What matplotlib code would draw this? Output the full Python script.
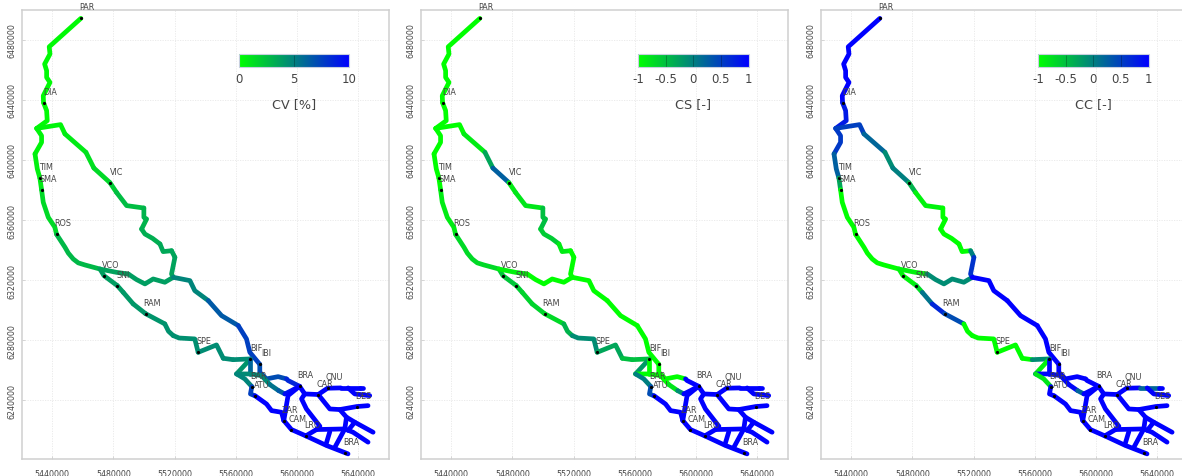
import numpy as np
import matplotlib
matplotlib.use('Agg')
import matplotlib.pyplot as plt
from matplotlib.cm import ScalarMappable
from matplotlib.colors import LinearSegmentedColormap, Normalize

# --- reaches of the network, coordinates in km (scaled to m when drawn) ---
reach_x = [
    [5458.7, 5438.0, 5438.5, 5435.0, 5436.3, 5436.3, 5438.5, 5434.1, 5434.3],
    [5434.3, 5436.3, 5436.7, 5429.8],
    [5429.8, 5433.0, 5433.0, 5428.7],
    [5428.7, 5430.2, 5431.9],
    [5431.9, 5433.0],
    [5433.0, 5434.1, 5437.4, 5441.7, 5442.8],
    [5442.8, 5448.3, 5450.5, 5453.7, 5457.0, 5461.4, 5471.2],
    [5471.2, 5473.8, 5482.5],
    [5482.5, 5486.4],
    [5486.4, 5492.9],
    [5492.9, 5501.0],
    [5501.0, 5513.6],
    [5513.6, 5516.0, 5519.1],
    [5519.1, 5523.0, 5533.2, 5535.4],
    [5535.4, 5547.4, 5551.8],
    [5551.8, 5558.3],
    [5558.3, 5569.6],
    [5471.2, 5482.0, 5489.7],
    [5489.7, 5495.1, 5500.6, 5506.0, 5513.6, 5519.1],
    [5429.8, 5445.4, 5448.3],
    [5448.3, 5462.0],
    [5462.0, 5467.2],
    [5467.2, 5477.7],
    [5477.7, 5482.0],
    [5482.0, 5488.6, 5499.9],
    [5499.9, 5499.9, 5501.7, 5498.4],
    [5498.4, 5500.6, 5505.6, 5510.4],
    [5510.4, 5512.5, 5518.0],
    [5518.0, 5520.2],
    [5520.2, 5518.0, 5519.1],
    [5519.1, 5530.0, 5533.2, 5542.0],
    [5542.0, 5550.7, 5561.6],
    [5561.6, 5567.0, 5569.2, 5575.7],
    [5575.7, 5575.7, 5580.1, 5587.7, 5593.2],
    [5593.2, 5594.2, 5601.7],
    [5569.6, 5560.5],
    [5569.6, 5569.6],
    [5560.5, 5569.6, 5576.8, 5582.3],
    [5582.3, 5588.0],
    [5588.0, 5592.1],
    [5592.1, 5596.4, 5601.7],
    [5560.5, 5565.9, 5570.5],
    [5570.5, 5569.6, 5572.7],
    [5572.7, 5580.1, 5583.4, 5589.9, 5591.4],
    [5591.4, 5596.4, 5605.8],
    [5605.8, 5619.3, 5631.7, 5633.4],
    [5601.7, 5594.2, 5591.4],
    [5601.7, 5605.1, 5613.9],
    [5605.1, 5603.0, 5606.2, 5615.0, 5612.8],
    [5605.8, 5612.8],
    [5612.8, 5631.3],
    [5613.9, 5620.0, 5628.7],
    [5628.7, 5633.5, 5641.0],
    [5641.0, 5643.3],
    [5633.5, 5637.8, 5647.6],
    [5613.9, 5621.5, 5628.0, 5639.1, 5646.5],
    [5628.0, 5632.4, 5631.3],
    [5632.4, 5637.8, 5649.8],
    [5631.3, 5624.8],
    [5631.3, 5636.7, 5646.5],
    [5637.8, 5633.5],
    [5621.5, 5618.9],
]
reach_y = [
    [6494.2, 6475.3, 6470.5, 6463.8, 6459.4, 6454.9, 6451.6, 6442.7, 6438.1],
    [6438.1, 6432.8, 6426.1, 6421.0],
    [6421.0, 6416.1, 6411.7, 6404.0],
    [6404.0, 6394.0, 6388.0],
    [6388.0, 6380.2],
    [6380.2, 6371.8, 6361.8, 6355.2, 6350.5],
    [6350.5, 6341.9, 6338.0, 6334.1, 6331.5, 6330.1, 6327.4],
    [6327.4, 6323.0, 6316.4],
    [6316.4, 6311.9],
    [6311.9, 6304.2],
    [6304.2, 6297.7],
    [6297.7, 6290.9],
    [6290.9, 6286.0, 6283.1],
    [6283.1, 6281.5, 6280.9, 6272.0],
    [6272.0, 6276.9, 6268.0],
    [6268.0, 6267.1],
    [6267.1, 6267.6],
    [6327.4, 6325.2, 6324.1],
    [6324.1, 6320.4, 6317.5, 6320.8, 6318.6, 6321.9],
    [6421.0, 6423.5, 6417.3],
    [6417.3, 6405.1],
    [6405.1, 6394.6],
    [6394.6, 6384.9],
    [6384.9, 6378.4],
    [6378.4, 6369.6, 6368.0],
    [6368.0, 6361.8, 6360.7, 6354.0],
    [6354.0, 6350.7, 6347.8, 6344.1],
    [6344.1, 6339.0, 6339.6],
    [6339.6, 6335.2],
    [6335.2, 6324.1, 6321.9],
    [6321.9, 6319.7, 6313.0, 6306.4],
    [6306.4, 6296.4, 6289.8],
    [6289.8, 6280.9, 6272.0, 6264.0],
    [6264.0, 6258.7, 6254.3, 6255.8, 6254.3],
    [6254.3, 6253.2, 6249.4],
    [6267.6, 6257.6],
    [6267.6, 6257.6],
    [6257.6, 6257.6, 6256.5, 6250.5],
    [6250.5, 6246.5],
    [6246.5, 6244.3],
    [6244.3, 6246.5, 6249.4],
    [6257.6, 6254.3, 6249.2],
    [6249.2, 6244.3, 6243.0],
    [6243.0, 6237.6, 6233.2, 6232.1, 6226.6],
    [6226.6, 6220.6, 6216.4],
    [6216.4, 6210.0, 6205.1, 6204.4],
    [6249.4, 6243.2, 6226.6],
    [6249.4, 6244.3, 6243.9],
    [6244.3, 6241.0, 6234.3, 6222.8, 6220.6],
    [6216.4, 6220.6],
    [6220.6, 6221.0],
    [6243.9, 6248.1, 6248.3],
    [6248.3, 6248.3, 6248.3],
    [6248.3, 6248.3],
    [6248.3, 6244.3, 6243.2],
    [6243.9, 6234.3, 6233.9, 6235.9, 6236.5],
    [6233.9, 6228.8, 6221.0],
    [6228.8, 6225.5, 6218.8],
    [6221.0, 6208.8],
    [6221.0, 6218.8, 6212.2],
    [6225.5, 6220.0],
    [6219.2, 6210.4],
]

# one value per reach
cv = [0.2, 0.2, 0.4, 0.6, 0.8, 1.5, 2.8, 3.8, 3.9, 4.0, 4.1, 4.2, 4.3, 4.4,
      4.5, 4.5, 4.5, 3.6, 3.8, 0.4, 0.8, 1.2, 1.5, 2.0, 2.6, 3.0, 3.2, 3.4,
      3.5, 3.6, 4.8, 6.5, 7.5, 7.0, 8.5, 4.2, 6.0, 4.6, 5.5, 6.5, 9.5, 4.8,
      7.5, 10, 10, 10, 10, 10, 10, 10, 10, 10, 10, 10, 10, 10, 10, 10, 10,
      10, 10, 10]
cs = [-1, -1, -1, -1, -1, -0.85, -0.7, -0.55, -0.6, -0.65, -0.65, -0.7, -0.4,
      -0.1, -0.3, -0.5, -0.5, -0.9, -1, -1, -0.85, -0.3, 0.25, -0.85, -0.8,
      -0.5, -0.6, -0.85, -1, -1, -1, -1, -1, -1, 1, -0.2, -1, -1, -0.8, -0.1,
      1, 0, 0.4, 1, 1, 1, 1, 1, 1, 1, 1, 1, 1, 1, 1, 1, 1, 1, 1, 1, 1, 1]
cc = [1, 0.8, 0.55, 0.25, -0.3, -1, -1, -0.9, -0.7, 0.1, 0.7, 0.4, -1, -1, -1,
      -1, -0.1, -0.9, -0.1, 0.5, 0.2, -0.1, 0, -0.4, -0.9, -1, -1, -1, 0,
      0.6, 1, 1, 1, 1, 1, -0.9, 1, 0.95, 0.95, 0.2, 1, -0.8, 1, 1, 1, 1, 1, 1,
      1, 1, 1, 1, 0.2, 1, 1, 1, 1, 1, 1, 1, 1, 1]

station_names = ['PAR', 'DIA', 'TIM', 'SMA', 'VIC', 'ROS', 'VCO', 'SNI', 'RAM',
                 'SPE', 'BIF', 'IBI', 'BAR', 'ATU', 'BRA', 'CNU', 'CAR', 'DES',
                 'ZAR', 'CAM', 'LRO', 'BRA']
station_x = [5458.7, 5434.3, 5431.9, 5433.0, 5477.7, 5442.8, 5473.8, 5482.5,
             5501.0, 5535.4, 5569.6, 5575.7, 5570.5, 5572.7, 5601.7, 5620.0,
             5613.9, 5639.1, 5591.4, 5596.4, 5605.8, 5631.7]
station_y = [6494.2, 6438.1, 6388.0, 6380.2, 6384.9, 6350.5, 6323.0, 6316.4,
             6297.7, 6272.0, 6267.6, 6264.0, 6249.2, 6243.0, 6249.4, 6248.1,
             6243.9, 6235.9, 6226.6, 6220.6, 6216.4, 6205.1]

x_ticks = [5440000, 5480000, 5520000, 5560000, 5600000, 5640000]
y_ticks = [6240000, 6280000, 6320000, 6360000, 6400000, 6440000, 6480000]

panels = [
    (cv, 'CV [%]', 0, 10, [0, 5, 10], ['0', '5', '10']),
    (cs, 'CS [-]', -1, 1, [-1, -0.5, 0, 0.5, 1], ['-1', '-0.5', '0', '0.5', '1']),
    (cc, 'CC [-]', -1, 1, [-1, -0.5, 0, 0.5, 1], ['-1', '-0.5', '0', '0.5', '1']),
]

W, H = 1182, 477
ax_left = [22, 421, 821]     # pixels; the third frame runs past the image edge
bar_left = [239, 638, 1038]
cmap = LinearSegmentedColormap.from_list('gb', ['#00ff00', '#0000ff'])
frame_col = '#cfcfcf'
text_col = '#444444'

fig = plt.figure(figsize=(W/100, H/100), dpi=100)

for (vals, label, vmin, vmax, cticks, clabels), left, bleft in zip(panels, ax_left, bar_left):
    ax = fig.add_axes([left/W, 1-460/H, 367/W, 449.5/H])
    norm = Normalize(vmin, vmax)

    for rx, ry, v in zip(reach_x, reach_y, vals):
        ax.plot(np.array(rx)*1000, np.array(ry)*1000, color=cmap(norm(v)), lw=3.4,
                solid_capstyle='round', solid_joinstyle='round', zorder=2)

    sx = np.array(station_x)*1000
    sy = np.array(station_y)*1000
    ax.plot(sx, sy, 'o', color='k', ms=2.3, mew=0, zorder=3)
    for name, x, y in zip(station_names, sx, sy):
        ax.annotate(name, (x, y), xytext=(4.5, 8.2), textcoords='offset points', ha='center',
                    va='center', fontsize=5.8, color=text_col, zorder=4, annotation_clip=False)

    ax.set_xlim(5420200, 5660200)
    ax.set_ylim(6201000, 6500100)
    ax.set_xticks(x_ticks)
    ax.set_yticks(y_ticks)
    ax.set_xticklabels([str(t) for t in x_ticks])
    ax.set_yticklabels([str(t) for t in y_ticks], rotation=90, va='center')
    ax.tick_params(axis='x', direction='in', length=2.5, width=0.6, color=frame_col,
                   labelsize=5.7, labelcolor=text_col, pad=7)
    ax.tick_params(axis='y', direction='in', length=2.5, width=0.6, color=frame_col,
                   labelsize=5.7, labelcolor=text_col, pad=4)
    ax.grid(True, color='#e8e8e8', lw=0.6, ls=(0, (1.5, 1.5)), zorder=0)
    ax.set_axisbelow(True)
    for sp in ax.spines.values():
        sp.set_color(frame_col)
        sp.set_linewidth(1.1)

    cax = fig.add_axes([bleft/W, 1-67.7/H, 110.5/W, 12.7/H])
    cb = fig.colorbar(ScalarMappable(norm=norm, cmap=cmap), cax=cax, orientation='horizontal')
    cb.set_ticks(cticks)
    cb.set_ticklabels(clabels)
    cb.ax.tick_params(direction='in', length=9, width=0.6, color=(0, 0, 0, 0.3), labelsize=8.5,
                      labelcolor=text_col, pad=4)
    cb.outline.set_edgecolor('#c8d0e0')
    cb.outline.set_linewidth(0.8)
    cb.set_label(label, fontsize=9.2, color=text_col, labelpad=8.5)

fig.savefig('out.png', dpi=100)
